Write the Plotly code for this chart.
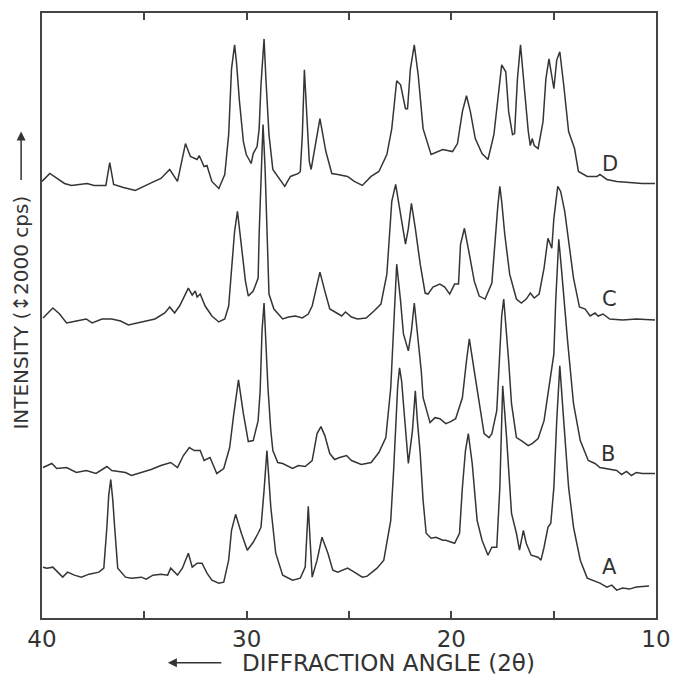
import plotly.graph_objects as go

# ---- data: diffraction angle (2θ, degrees) and stacked intensity (arb. units)
angle_D = [40.00, 39.62, 38.90, 38.56, 38.18, 37.79, 37.46, 36.88, 36.69, 36.50, 36.02, 35.44, 34.72, 34.19,
           33.76, 33.38, 32.99, 32.75, 32.42, 32.32, 32.08, 31.94, 31.70, 31.36, 31.07, 30.88, 30.74, 30.59,
           30.50, 30.35, 30.16, 30.02, 29.78, 29.68, 29.49, 29.39, 29.30, 29.15, 29.06, 28.91, 28.72, 28.43,
           28.14, 27.86, 27.47, 27.38, 27.28, 27.18, 27.04, 26.94, 26.85, 26.66, 26.42, 26.13, 25.84, 25.55,
           25.07, 24.74, 24.35, 23.92, 23.54, 23.15, 22.91, 22.67, 22.48, 22.24, 22.14, 22.00, 21.81, 21.62,
           21.38, 20.99, 20.42, 19.94, 19.70, 19.46, 19.26, 19.07, 18.83, 18.50, 18.21, 17.92, 17.68, 17.54,
           17.34, 17.20, 17.01, 16.91, 16.77, 16.62, 16.43, 16.24, 16.14, 16.05, 15.95, 15.76, 15.52, 15.38,
           15.23, 14.99, 14.85, 14.70, 14.51, 14.27, 13.98, 13.79, 13.36, 12.88, 12.74, 12.40, 11.92, 11.30,
           10.67, 10.05]
int_D = [438, 446, 436, 434, 435, 436, 434, 434, 457, 435, 432, 429, 436, 441,
         450, 438, 476, 463, 460, 464, 453, 454, 438, 431, 445, 485, 551, 575,
         558, 518, 478, 465, 456, 466, 473, 491, 535, 581, 541, 485, 450, 441,
         433, 443, 446, 448, 485, 550, 501, 458, 450, 471, 501, 468, 446, 445,
         443, 438, 434, 443, 448, 465, 491, 539, 535, 511, 511, 551, 575, 545,
         491, 465, 470, 468, 476, 508, 524, 508, 481, 466, 460, 485, 531, 555,
         548, 508, 485, 486, 541, 575, 531, 488, 474, 481, 474, 471, 498, 541,
         561, 531, 560, 568, 535, 488, 471, 448, 443, 443, 445, 440, 438, 437,
         436, 436]

angle_C = [39.95, 39.47, 39.14, 38.80, 38.32, 37.84, 37.55, 37.07, 36.59, 36.16, 35.78, 35.15, 34.48, 34.00,
           33.76, 33.52, 33.28, 33.04, 32.85, 32.66, 32.51, 32.42, 32.27, 32.03, 31.70, 31.36, 31.07, 30.88,
           30.74, 30.59, 30.45, 30.30, 30.21, 30.06, 29.92, 29.68, 29.44, 29.39, 29.25, 29.20, 29.10, 29.01,
           28.91, 28.67, 28.24, 27.95, 27.62, 27.28, 26.99, 26.80, 26.66, 26.42, 26.18, 25.94, 25.60, 25.36,
           25.17, 24.88, 24.59, 24.16, 23.78, 23.44, 23.15, 23.01, 22.91, 22.72, 22.48, 22.24, 22.10, 21.95,
           21.76, 21.52, 21.28, 21.14, 20.90, 20.56, 20.32, 20.08, 19.84, 19.65, 19.55, 19.36, 19.12, 18.88,
           18.64, 18.35, 18.02, 17.87, 17.73, 17.63, 17.54, 17.39, 17.15, 16.82, 16.58, 16.34, 16.14, 15.95,
           15.71, 15.47, 15.28, 15.09, 14.99, 14.80, 14.66, 14.46, 14.32, 14.03, 13.74, 13.46, 13.22, 12.98,
           12.83, 12.59, 12.26, 11.63, 10.96, 10.05]
int_C = [301, 311, 305, 296, 298, 300, 296, 300, 300, 298, 294, 297, 300, 306,
         312, 306, 313, 323, 331, 324, 328, 322, 325, 313, 303, 297, 300, 313,
         351, 388, 408, 383, 365, 338, 323, 328, 341, 385, 468, 495, 451, 385,
         325, 310, 300, 302, 303, 301, 305, 313, 325, 347, 328, 310, 306, 303,
         307, 302, 300, 301, 308, 315, 345, 388, 418, 435, 405, 375, 391, 416,
         391, 355, 326, 325, 332, 335, 332, 325, 335, 335, 375, 391, 365, 338,
         323, 320, 336, 378, 413, 433, 418, 385, 345, 320, 316, 320, 326, 321,
         325, 351, 381, 371, 401, 433, 428, 408, 385, 341, 312, 310, 303, 306,
         303, 305, 300, 299, 300, 299]

angle_B = [39.95, 39.52, 39.28, 38.80, 38.32, 37.84, 37.36, 36.83, 36.59, 35.92, 35.63, 35.15, 34.67, 34.19,
           33.71, 33.38, 33.09, 32.80, 32.56, 32.27, 32.08, 31.79, 31.46, 31.12, 30.83, 30.64, 30.40, 30.16,
           29.92, 29.68, 29.44, 29.34, 29.25, 29.15, 29.06, 28.96, 28.82, 28.72, 28.48, 28.24, 27.76, 27.47,
           27.14, 26.80, 26.56, 26.37, 26.18, 25.94, 25.70, 25.46, 25.12, 24.88, 24.40, 23.92, 23.54, 23.20,
           22.96, 22.82, 22.67, 22.48, 22.34, 22.10, 21.95, 21.81, 21.62, 21.47, 21.38, 21.04, 20.80, 20.56,
           20.27, 20.03, 19.79, 19.46, 19.26, 19.12, 18.88, 18.64, 18.40, 18.16, 18.02, 17.78, 17.63, 17.54,
           17.44, 17.30, 17.20, 17.06, 16.82, 16.58, 16.24, 16.05, 15.76, 15.47, 15.23, 14.99, 14.90, 14.75,
           14.61, 14.46, 14.32, 14.03, 13.70, 13.31, 12.98, 12.74, 12.40, 11.92, 11.68, 11.44, 11.20, 10.96,
           10.67, 10.05]
int_B = [151, 155, 150, 151, 146, 148, 145, 152, 148, 146, 143, 146, 149, 153,
         156, 151, 163, 171, 168, 168, 158, 161, 145, 150, 171, 203, 239, 205,
         177, 178, 198, 228, 288, 316, 278, 231, 188, 168, 156, 155, 150, 153,
         152, 158, 185, 192, 183, 165, 159, 161, 163, 158, 154, 156, 166, 181,
         231, 298, 355, 318, 285, 268, 288, 316, 281, 248, 221, 196, 201, 200,
         195, 197, 200, 221, 258, 280, 248, 215, 185, 181, 185, 208, 265, 303,
         320, 288, 258, 215, 181, 178, 173, 175, 180, 198, 231, 265, 318, 380,
         348, 308, 278, 215, 178, 158, 155, 151, 150, 148, 144, 147, 143, 146,
         145, 145]

angle_A = [39.95, 39.76, 39.47, 39.23, 38.99, 38.75, 38.42, 38.08, 37.70, 37.22, 36.98, 36.83, 36.74, 36.64,
           36.54, 36.45, 36.30, 35.92, 35.63, 35.15, 34.91, 34.58, 34.19, 33.86, 33.71, 33.38, 33.14, 32.85,
           32.66, 32.42, 32.18, 31.94, 31.70, 31.36, 31.12, 30.88, 30.74, 30.54, 30.26, 29.97, 29.68, 29.44,
           29.30, 29.15, 29.01, 28.91, 28.82, 28.58, 28.24, 27.76, 27.38, 27.14, 27.04, 26.99, 26.90, 26.80,
           26.56, 26.32, 26.03, 25.79, 25.55, 25.31, 25.07, 24.74, 24.35, 24.11, 23.63, 23.30, 22.96, 22.82,
           22.72, 22.62, 22.53, 22.43, 22.34, 22.10, 21.90, 21.76, 21.66, 21.52, 21.38, 21.23, 20.99, 20.75,
           20.42, 20.27, 19.84, 19.60, 19.46, 19.31, 19.17, 18.98, 18.74, 18.50, 18.21, 18.02, 17.78, 17.63,
           17.49, 17.30, 17.06, 16.82, 16.67, 16.48, 16.34, 16.10, 15.76, 15.62, 15.47, 15.28, 15.14, 14.99,
           14.85, 14.70, 14.51, 14.27, 14.03, 13.70, 13.36, 13.07, 12.74, 12.40, 12.16, 11.92, 11.63, 11.30,
           10.96, 10.34]
int_A = [51, 50, 51, 46, 41, 46, 43, 41, 44, 46, 50, 91, 123, 139,
         118, 91, 50, 41, 40, 41, 39, 43, 44, 43, 50, 43, 50, 65,
         51, 55, 55, 45, 38, 35, 36, 58, 88, 104, 85, 68, 76, 85,
         91, 128, 168, 138, 111, 65, 43, 38, 40, 51, 88, 112, 78, 41,
         58, 81, 65, 48, 46, 48, 50, 46, 41, 42, 50, 58, 98, 148,
         198, 233, 251, 238, 215, 155, 188, 228, 198, 165, 118, 85, 80, 81,
         78, 78, 75, 85, 131, 168, 185, 155, 98, 78, 63, 71, 71, 131,
         233, 181, 105, 85, 68, 88, 75, 63, 61, 58, 71, 91, 95, 131,
         198, 253, 198, 131, 91, 58, 40, 38, 35, 31, 33, 28, 30, 29,
         31, 32]

series = [("A", angle_A, int_A), ("B", angle_B, int_B), ("C", angle_C, int_C), ("D", angle_D, int_D)]
label_angle = [12.26, 12.35, 12.26, 12.26]
label_int = [51, 165, 320, 456]

tick_vals = [40, 35, 30, 25, 20, 15, 10]
tick_text = ["40", "", "30", "", "20", "", "10"]

FONT = "DejaVu Sans"
INK = "#333333"

fig = go.Figure()
for name, xs, ys in series:
    fig.add_trace(go.Scatter(x=xs, y=ys, mode="lines", name=name,
                             line=dict(color="#353535", width=1.5), showlegend=False))

for (name, _, _), lx, ly in zip(series, label_angle, label_int):
    fig.add_annotation(x=lx, y=ly, text=name, showarrow=False,
                       xanchor="center", yanchor="middle",
                       font=dict(family=FONT, size=21, color=INK))

# axis titles with arrows
fig.add_annotation(xref="paper", yref="paper", x=0.565, y=-0.074, text="DIFFRACTION ANGLE (2θ)",
                   xanchor="center", yanchor="middle",
                   showarrow=False, font=dict(family=FONT, size=23, color=INK))
fig.add_annotation(xref="paper", yref="paper", x=0.205, y=-0.074, ax=55, ay=0, text="",
                   showarrow=True, arrowhead=2, arrowsize=1.2, arrowwidth=1.5, arrowcolor=INK)
fig.add_annotation(xref="paper", yref="paper", x=-0.034, y=0.505, text="INTENSITY (↕2000 cps)",
                   xanchor="center", yanchor="middle",
                   textangle=-90, showarrow=False, font=dict(family=FONT, size=20, color=INK))
fig.add_annotation(xref="paper", yref="paper", x=-0.034, y=0.804, ax=0, ay=50, text="",
                   showarrow=True, arrowhead=2, arrowsize=1.2, arrowwidth=1.5, arrowcolor=INK)

fig.update_layout(
    width=682, height=675,
    margin=dict(l=42, r=15, t=11, b=57),
    paper_bgcolor="white", plot_bgcolor="white",
    xaxis=dict(range=[40, 10], tickvals=tick_vals, ticktext=tick_text, ticks="inside",
               ticklen=7, tickwidth=1.5, tickcolor="#444", showline=True, linecolor="#444",
               linewidth=1.5, mirror="ticks", showgrid=False, zeroline=False,
               tickfont=dict(family=FONT, size=23, color=INK)),
    yaxis=dict(range=[0, 607], showline=True, linecolor="#444", linewidth=1.5, mirror=True,
               showticklabels=False, ticks="", showgrid=False, zeroline=False),
)

fig.write_html("out.html")
